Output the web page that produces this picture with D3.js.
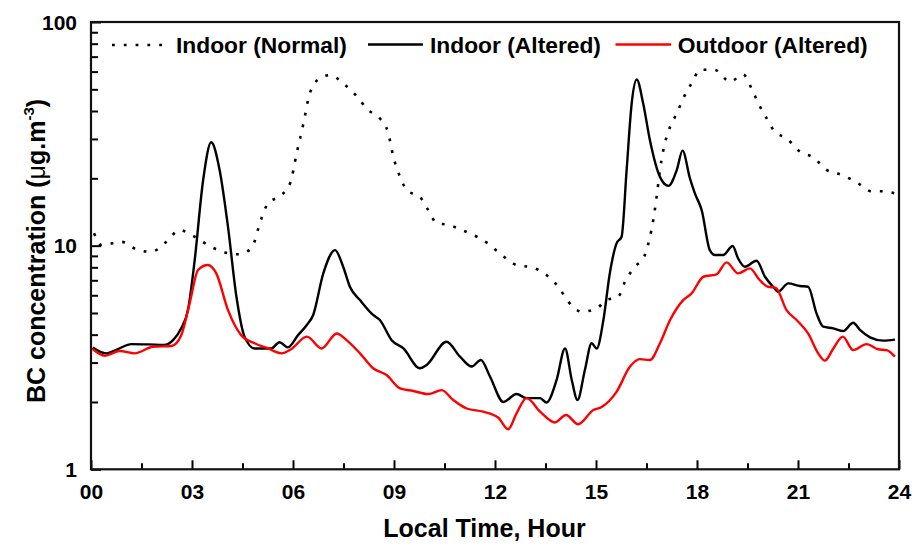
<!DOCTYPE html>
<html>
<head>
<meta charset="utf-8">
<script src="https://cdn.jsdelivr.net/npm/d3@7"></script>
<style>
  html, body { margin: 0; padding: 0; background: #fff; }
  svg { display: block; font-family: "Liberation Sans", Arial, sans-serif; }
</style>
</head>
<body>
<svg id="chart" width="912" height="544"></svg>
<script>
// ---------- data ----------
const timeNormal = [0.09,0.31,0.9,1.4,1.79,2.24,2.63,3.08,3.52,3.97,4.37,4.76,5.06,5.26,5.65,5.93,6.1,6.31,6.5,6.8,7.1,7.49,7.89,8.23,8.58,8.83,8.98,9.18,9.38,9.77,10.02,10.27,10.61,11.01,11.46,11.8,12.2,12.64,13.09,13.49,13.88,14.18,14.57,14.97,15.32,15.66,15.86,16.11,16.45,16.58,16.7,16.8,16.9,17.0,17.2,17.4,17.59,17.84,18.1,18.53,18.98,19.37,19.62,19.82,20.07,20.31,20.66,21.06,21.45,21.85,22.3,22.74,23.19,23.53,23.88];
const indoorNormal = [11.35,10.05,10.4,9.55,9.39,10.4,11.75,10.96,9.96,9.33,9.15,9.72,13.2,15.5,16.8,19.3,25.5,35.2,48.0,56.0,57.9,53.2,46.6,40.4,37.1,31.8,25.0,20.3,17.7,16.5,14.4,12.6,12.4,11.75,10.96,10.2,9.08,8.19,8.0,7.46,6.55,5.61,5.07,5.19,5.71,5.91,6.9,7.91,9.08,10.6,13.0,16.5,21.8,26.7,34.0,39.0,45.5,53.2,61.2,61.0,54.0,58.3,50.5,43.3,37.1,32.3,30.2,26.3,24.8,21.8,20.7,19.2,17.5,17.5,17.1];

const timeAltered = [0.05,0.45,0.8,1.2,1.7,2.19,2.45,2.68,2.88,3.08,3.33,3.57,3.82,4.07,4.32,4.56,4.86,5.35,5.6,5.85,6.15,6.41,6.6,6.9,7.25,7.49,7.69,7.99,8.38,8.58,8.93,9.28,9.77,9.97,10.56,10.96,11.31,11.58,11.85,12.25,12.64,12.94,13.34,13.53,13.83,14.08,14.28,14.45,14.67,14.87,15.02,15.22,15.41,15.61,15.76,15.91,16.06,16.21,16.4,16.6,16.9,17.15,17.4,17.57,17.79,17.94,18.14,18.38,18.53,18.78,19.06,19.22,19.42,19.77,20.02,20.26,20.41,20.71,21.06,21.3,21.55,21.75,22.05,22.34,22.64,22.84,23.14,23.53,23.88];
const indoorAltered = [3.5,3.3,3.45,3.63,3.62,3.6,3.8,4.27,5.15,8.62,19.6,29.0,21.8,12.1,5.91,3.92,3.47,3.47,3.7,3.51,3.98,4.42,4.9,7.52,9.55,8.05,6.55,5.71,4.9,4.65,3.78,3.47,2.83,2.93,3.72,3.19,2.88,3.08,2.6,2.0,2.17,2.08,2.08,1.99,2.51,3.47,2.51,2.04,2.78,3.66,3.47,4.65,7.52,10.24,10.96,21.8,43.3,55.3,43.3,29.7,20.3,18.5,21.8,26.6,20.0,17.1,14.4,9.55,9.08,9.08,9.96,8.77,8.05,8.56,7.26,6.55,6.22,6.78,6.6,6.55,4.98,4.34,4.27,4.15,4.52,4.2,3.89,3.76,3.8];

const timeOutdoor = [0.05,0.41,0.85,1.3,1.84,2.39,2.68,2.93,3.18,3.47,3.72,4.07,4.46,4.86,5.26,5.65,5.95,6.41,6.85,7.3,7.59,7.99,8.38,8.78,9.18,9.57,10.02,10.42,10.76,11.16,11.65,12.1,12.39,12.64,12.94,13.34,13.78,14.11,14.47,14.92,15.17,15.61,16.01,16.3,16.6,16.9,17.2,17.59,17.84,18.19,18.58,18.88,19.22,19.57,19.86,20.11,20.34,20.66,20.96,21.3,21.6,21.8,22.05,22.33,22.64,23.04,23.38,23.63,23.88];
const outdoorAltered = [3.45,3.22,3.38,3.3,3.53,3.56,3.98,5.52,7.78,8.19,7.52,5.15,3.98,3.66,3.47,3.3,3.45,3.92,3.47,4.05,3.78,3.3,2.83,2.64,2.3,2.24,2.17,2.26,2.04,1.87,1.81,1.7,1.51,1.78,2.08,1.81,1.62,1.75,1.59,1.84,1.9,2.22,2.88,3.11,3.08,3.66,4.65,5.71,6.12,7.26,7.44,8.42,7.52,7.91,7.02,6.55,6.48,5.15,4.65,4.05,3.3,3.06,3.47,3.92,3.41,3.63,3.44,3.41,3.19];

const xMajorTicks = [0,3,6,9,12,15,18,21,24];
const xMinorTicks = [1.5,4.5,7.5,10.5,13.5,16.5,19.5,22.5];
const yMajorTicks = [1,10,100];
const yMinorTicks = [2,3,4,5,6,7,8,9,20,30,40,50,60,70,80,90];
const legendLabels = ["Indoor (Normal)","Indoor (Altered)","Outdoor (Altered)"];

// ---------- chart ----------
const svg = d3.select("#chart");
const L = 91, R = 899, T = 22, B = 469.3;
const x = d3.scaleLinear().domain([0,24]).range([L,R]);
const y = d3.scaleLog().domain([1,100]).range([B,T]);

const line = (tArr, vArr) => d3.line()
  .x((d,i) => x(tArr[i]))
  .y(d => y(d))
  .curve(d3.curveMonotoneX)(vArr);

// series
svg.append("path").attr("d", line(timeNormal, indoorNormal))
  .attr("fill","none").attr("stroke","#000").attr("stroke-width",2.6)
  .attr("stroke-dasharray","2.8,9").attr("stroke-linecap","butt");
svg.append("path").attr("d", line(timeAltered, indoorAltered))
  .attr("fill","none").attr("stroke","#000").attr("stroke-width",2.4)
  .attr("stroke-linejoin","round");
svg.append("path").attr("d", line(timeOutdoor, outdoorAltered))
  .attr("fill","none").attr("stroke","#ff0000").attr("stroke-width",2.4)
  .attr("stroke-linejoin","round");

// axes
const fontTick = "21px";
const gx = svg.append("g").attr("transform",`translate(0,${B})`)
  .call(d3.axisBottom(x).tickValues(xMajorTicks).tickSize(-9).tickFormat(d3.format("02d")));
gx.select(".domain").remove();
gx.selectAll("line").attr("stroke","#000").attr("stroke-width",2);
gx.selectAll("text").attr("y",30).attr("dy",0)
  .attr("font-size",fontTick).attr("font-weight","bold").attr("fill","#000")
  .attr("font-family","Liberation Sans, Arial, sans-serif");
const gxm = svg.append("g").attr("transform",`translate(0,${B})`)
  .call(d3.axisBottom(x).tickValues(xMinorTicks).tickSize(-6).tickFormat(""));
gxm.select(".domain").remove();
gxm.selectAll("line").attr("stroke","#000").attr("stroke-width",2);

const gy = svg.append("g").attr("transform",`translate(${L},0)`)
  .call(d3.axisLeft(y).tickValues(yMajorTicks).tickSize(-10).tickPadding(14).tickFormat(d3.format("d")));
gy.select(".domain").remove();
gy.selectAll("line").attr("stroke","#000").attr("stroke-width",2);
gy.selectAll("text").attr("font-size",fontTick).attr("font-weight","bold").attr("fill","#000")
  .attr("dy","0.34em").attr("font-family","Liberation Sans, Arial, sans-serif");
const gym = svg.append("g").attr("transform",`translate(${L},0)`)
  .call(d3.axisLeft(y).tickValues(yMinorTicks).tickSize(-7).tickFormat(""));
gym.select(".domain").remove();
gym.selectAll("line").attr("stroke","#000").attr("stroke-width",2);

// frame
svg.append("rect").attr("x",L).attr("y",T).attr("width",R-L).attr("height",B-T)
  .attr("fill","none").attr("stroke","#111").attr("stroke-width",2.2);

// axis titles
svg.append("text").attr("x",484.5).attr("y",537)
  .attr("text-anchor","middle").attr("font-size","25px").attr("font-weight","bold")
  .text("Local Time, Hour");

const yt = svg.append("text")
  .attr("transform","translate(45,251) rotate(-90)")
  .attr("text-anchor","middle").attr("font-size","25px").attr("font-weight","bold");
yt.append("tspan").text("BC concentration (");
yt.append("tspan").attr("font-weight","normal").text("μ");
yt.append("tspan").text("g.m");
yt.append("tspan").attr("font-size","15px").attr("dy","-11").text("-3");
yt.append("tspan").attr("dy","11").text(")");

// legend
const lg = svg.append("g").attr("font-size","22.8px").attr("font-weight","bold");
lg.append("line").attr("x1",112).attr("x2",163).attr("y1",45).attr("y2",45)
  .attr("stroke","#000").attr("stroke-width",2.6).attr("stroke-dasharray","2.8,9");
lg.append("text").attr("x",176).attr("y",52.5).text(legendLabels[0]);
lg.append("line").attr("x1",368).attr("x2",423).attr("y1",44.5).attr("y2",44.5)
  .attr("stroke","#000").attr("stroke-width",2.4);
lg.append("text").attr("x",430).attr("y",52.5).text(legendLabels[1]);
lg.append("line").attr("x1",615.5).attr("x2",671).attr("y1",44.5).attr("y2",44.5)
  .attr("stroke","#ff0000").attr("stroke-width",2.4);
lg.append("text").attr("x",677.7).attr("y",52.5).text(legendLabels[2]);
</script>
</body>
</html>
